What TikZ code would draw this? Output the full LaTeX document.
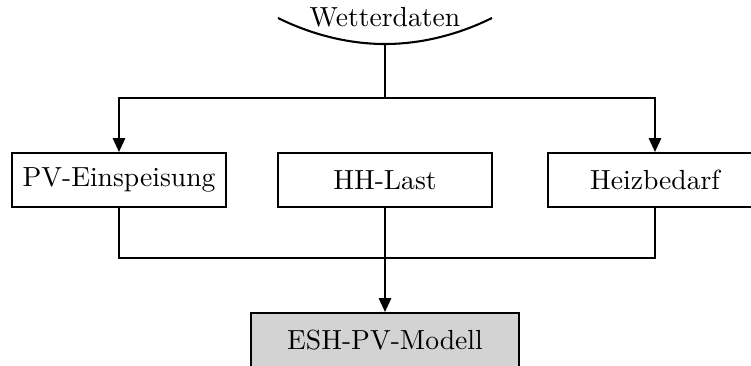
\documentclass[tikz,border=0pt]{standalone}
\usetikzlibrary{arrows.meta}
\definecolor{boxgray}{RGB}{211,211,211}
\begin{document}
\begin{tikzpicture}[x=0.362pt,y=-0.362pt, line width=0.75pt,
  box/.style={draw, line width=0.75pt, minimum width=77.5pt, minimum height=19.5pt, inner sep=0pt},
  arr/.style={-{Triangle[length=5pt,width=4.4pt]}}]
\useasboundingbox (0,0) rectangle (751,365);
\node (wd) at (385,17) {Wetterdaten};
\draw (278,18) parabola bend (385,44) (492,18);
\coordinate (wdb) at (385,44);
\node[box] (pv) at (119,180) {PV-Einspeisung};
\node[box] (hh) at (385,180) {HH-Last};
\node[box] (hz) at (655,180) {Heizbedarf};
\node[box, fill=boxgray, minimum width=97pt] (esh) at (385,340) {ESH-PV-Modell};
\coordinate (top) at (385,98);
\coordinate (bot) at (385,258);
\draw[arr] (wdb) -- (top) -| (pv.north);
\draw[arr] (top) -| (hz.north);
\draw (pv.south) |- (bot) -| (hz.south);
\draw[arr] (hh.south) -- (esh.north);
\end{tikzpicture}
\end{document}
